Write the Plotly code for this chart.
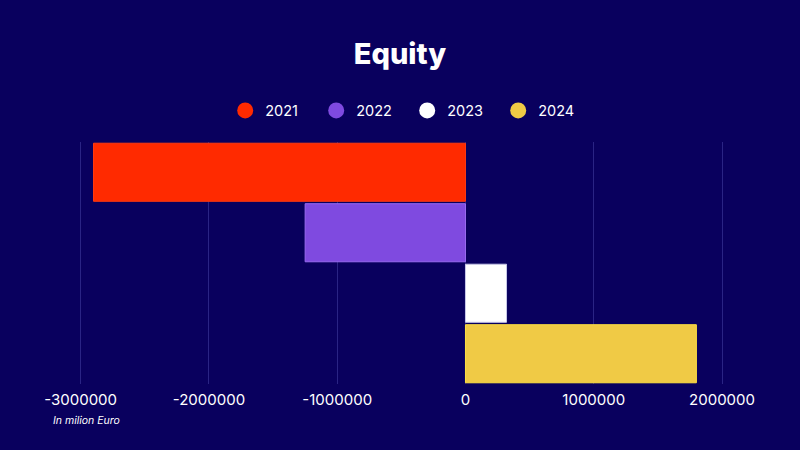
import plotly.graph_objects as go

years = ["2021", "2022", "2023", "2024"]
values = [-2900000, -1250000, 320000, 1800000]
colors = ["#ff2a00", "#7f4ae0", "#ffffff", "#f0ca45"]
edge_colors = ["#ff3a10", "#9a6cf0", "#c8c8e8", "#ffe040"]
tick_vals = [-3000000, -2000000, -1000000, 0, 1000000, 2000000]
tick_text = ["-3000000", "-2000000", "-1000000", "0", "1000000", "2000000"]

bg = "#09005e"

fig = go.Figure()
for year, val, col, edge in zip(years, values, colors, edge_colors):
    fig.add_trace(go.Bar(
        x=[val], y=["Equity"], orientation="h", name=year,
        marker=dict(color=col, line=dict(color=edge, width=1)),
        showlegend=False, hoverinfo="x+name"))
# circle markers for the legend
for year, col in zip(years, colors):
    fig.add_trace(go.Scatter(
        x=[None], y=[None], mode="markers", name=year,
        marker=dict(color=col, size=17, symbol="circle")))

fig.update_layout(
    width=800, height=450,
    paper_bgcolor=bg, plot_bgcolor=bg,
    font=dict(family="Inter, Roboto, sans-serif", color="white", size=15),
    title=dict(text="Equity", x=0.5, xanchor="center", y=0.88, yanchor="middle",
               font=dict(size=29, color="white", weight=800,
                         family="Inter, Roboto, sans-serif")),
    legend=dict(orientation="h", x=0.51, xanchor="center", y=1.13, yanchor="middle",
                font=dict(size=14.5, color="white"), itemwidth=30,
                entrywidth=46, entrywidthmode="pixels",
                bgcolor="rgba(0,0,0,0)"),
    barmode="group", bargap=0, bargroupgap=0.04,
    margin=dict(l=40, r=40, t=142, b=66),
    xaxis=dict(range=[-3317000, 2296000], tickvals=tick_vals, ticktext=tick_text,
               showgrid=True, gridcolor="#2a2484", gridwidth=1, zeroline=False,
               showline=False, ticks="", ticklabelstandoff=5,
               tickfont=dict(size=15, color="white")),
    yaxis=dict(visible=False, autorange="reversed"),
    annotations=[dict(text="<i>In milion Euro</i>", xref="paper", yref="paper",
                      x=0.015, y=-0.15, xanchor="left", yanchor="middle",
                      showarrow=False, font=dict(size=10.5, color="white"))],
)

fig.write_html("out.html", config={"displayModeBar": False},
               post_script="document.body.style.margin='0';document.body.style.overflow='hidden';")
